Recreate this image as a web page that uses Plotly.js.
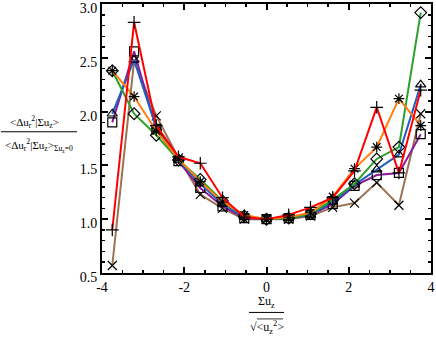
<!DOCTYPE html>
<html><head><meta charset="utf-8">
<script src="https://cdn.plot.ly/plotly-3.0.1.min.js"></script>
<style>html,body{margin:0;padding:0;background:#fff}#chart{width:436px;height:341px}</style>
</head><body><div id="chart"></div>
<script>
var xVals = [-3.75, -3.22, -2.68, -2.14, -1.61, -1.07, -0.54, 0, 0.54, 1.07, 1.61, 2.14, 2.68, 3.22, 3.75];
var redVals    = [0.90, 2.83, 1.87, 1.58, 1.52, 1.20, 1.02, 1.00, 1.04, 1.11, 1.20, 1.45, 2.04, 1.43, 2.20];
var orangeVals = [2.38, 2.14, 1.82, 1.56, 1.35, 1.16, 1.04, 1.00, 1.02, 1.06, 1.21, 1.47, 1.67, 2.12, 1.87];
var greenVals  = [2.38, 1.98, 1.78, 1.55, 1.37, 1.17, 1.03, 1.00, 1.01, 1.05, 1.18, 1.33, 1.56, 1.67, 2.92];
var blueVals   = [1.98, 2.48, 1.85, 1.55, 1.33, 1.14, 1.02, 1.00, 1.01, 1.04, 1.16, 1.32, 1.46, 1.60, 2.25];
var purpleVals = [1.90, 2.56, 1.84, 1.54, 1.29, 1.12, 1.01, 1.00, 1.01, 1.04, 1.14, 1.31, 1.41, 1.43, 1.79];
var brownVals  = [0.57, 2.47, 1.96, 1.57, 1.23, 1.10, 1.00, 1.00, 1.00, 1.03, 1.11, 1.15, 1.34, 1.13, 1.98];

var xTickVals = [-4, -2, 0, 2, 4];
var xTickText = ["-4", "-2", "0", "2", "4"];
var yTickVals = [0.5, 1.0, 1.5, 2.0, 2.5, 3.0];
var yTickText = ["0.5", "1.0", "1.5", "2.0", "2.5", "3.0"];

var series = [
  {y: brownVals,  color: '#9a7355', symbol: 'x-thin-open'},
  {y: purpleVals, color: '#8b1a9b', symbol: 'square-open'},
  {y: blueVals,   color: '#1f5fbf', symbol: 'triangle-up-open'},
  {y: greenVals,  color: '#2ca02c', symbol: 'diamond-open'},
  {y: orangeVals, color: '#ff7f0e', symbol: 'asterisk-open'},
  {y: redVals,    color: '#ff0000', symbol: 'cross-thin-open'}
];

var traces = series.map(function(s){
  return {
    x: xVals, y: s.y, type: 'scatter', mode: 'lines+markers',
    line: {color: s.color, width: 2},
    marker: {symbol: s.symbol, size: 9, color: 'black', line: {color: 'black', width: 1.2}},
    showlegend: false, hoverinfo: 'skip', cliponaxis: false
  };
});

var F = 'Liberation Serif, Times New Roman, serif';
var L = 102, R = 431, T = 4, B = 273.5;
function px(x){ return (x - L) / (R - L); }
function py(y){ return (B - y) / (B - T); }

var layout = {
  width: 436, height: 341,
  margin: {l: L, r: 436 - R, t: T, b: 341 - B, pad: 0},
  paper_bgcolor: 'white', plot_bgcolor: 'white',
  font: {family: F, size: 14, color: 'black'},
  xaxis: {
    range: [-4, 4], tickmode: 'array', tickvals: xTickVals, ticktext: xTickText,
    ticks: 'inside', ticklen: 6, tickwidth: 2, tickcolor: 'black',
    minor: {dtick: 0.5, ticks: 'inside', ticklen: 3, tickwidth: 1.5, tickcolor: 'black'},
    showline: true, linecolor: 'black', linewidth: 2, mirror: 'ticks',
    showgrid: false, zeroline: false, tickfont: {family: F, size: 14},
    ticklabeloverflow: 'allow'
  },
  yaxis: {
    range: [0.5, 3.0], tickmode: 'array', tickvals: yTickVals, ticktext: yTickText,
    ticks: 'inside', ticklen: 6, tickwidth: 2, tickcolor: 'black',
    minor: {dtick: 0.1, ticks: 'inside', ticklen: 3, tickwidth: 1.5, tickcolor: 'black'},
    showline: true, linecolor: 'black', linewidth: 2, mirror: 'ticks',
    showgrid: false, zeroline: false, tickfont: {family: F, size: 14},
    ticklabeloverflow: 'allow', ticklabelshift: 4
  },
  shapes: [
    {type: 'line', xref: 'paper', yref: 'paper', x0: px(1), x1: px(77), y0: py(132), y1: py(132), line: {color: 'black', width: 1}},
    {type: 'line', xref: 'paper', yref: 'paper', x0: px(249), x1: px(284), y0: py(313), y1: py(313), line: {color: 'black', width: 1}},
    {type: 'line', xref: 'paper', yref: 'paper', x0: px(257), x1: px(283), y0: py(319.5), y1: py(319.5), line: {color: 'black', width: 0.8}}
  ],
  annotations: [
    {xref: 'paper', yref: 'paper', x: px(34), y: py(122), xanchor: 'center', yanchor: 'middle', showarrow: false,
     text: '<\u0394u<sub>r</sub><sup>2</sup>|\u03A3u<sub>z</sub>>', font: {family: F, size: 11}},
    {xref: 'paper', yref: 'paper', x: px(39), y: py(146), xanchor: 'center', yanchor: 'middle', showarrow: false,
     text: '<\u0394u<sub>r</sub><sup>2</sup>|\u03A3u<sub>z</sub>><sub>\u03A3u<sub>z</sub>=0</sub>', font: {family: F, size: 11}},
    {xref: 'paper', yref: 'paper', x: px(266.5), y: py(303), xanchor: 'center', yanchor: 'middle', showarrow: false,
     text: '\u03A3u<sub>z</sub>', font: {family: F, size: 12}},
    {xref: 'paper', yref: 'paper', x: px(266.5), y: py(328), xanchor: 'center', yanchor: 'middle', showarrow: false,
     text: '\u221A<u<sub>z</sub><sup>2</sup>>', font: {family: F, size: 12}}
  ]
};

Plotly.newPlot('chart', traces, layout, {staticPlot: true, displayModeBar: false});
</script></body></html>
